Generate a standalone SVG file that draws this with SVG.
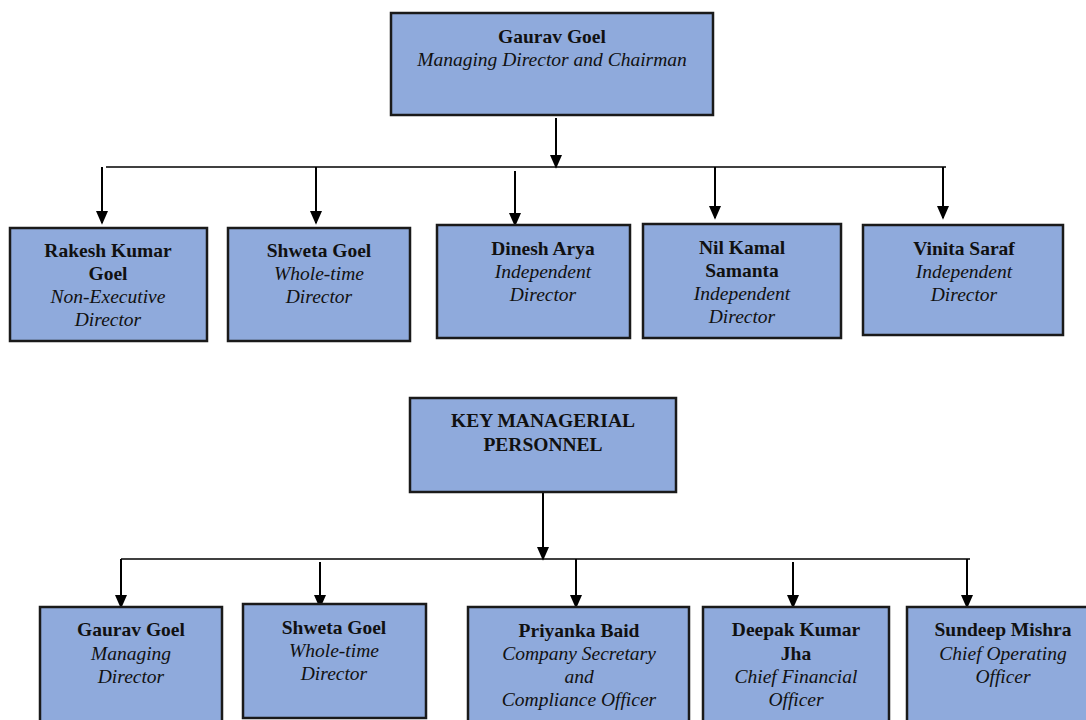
<svg xmlns="http://www.w3.org/2000/svg" width="1086" height="720" viewBox="0 0 1086 720">
<style>
.box{fill:#8FAADC;stroke:#1a1a1a;stroke-width:2.5}
.t{font-family:"Liberation Serif","Times New Roman",serif;font-size:19.5px;fill:#111;text-anchor:middle}
.b{font-weight:bold}
.i{font-style:italic}
.ln{stroke:#000;stroke-width:2;fill:none}
.hl{stroke:#000;stroke-width:1.5;fill:none}
</style>
<defs>
<marker id="ah" markerUnits="userSpaceOnUse" markerWidth="14" markerHeight="16" refX="7" refY="15" orient="auto-start-reverse" viewBox="0 0 14 16">
<path d="M0,0 L14,0 L7,16 Z" fill="#000"/>
</marker>
<marker id="ad" markerUnits="userSpaceOnUse" markerWidth="14" markerHeight="16" refX="14" refY="7" orient="auto" viewBox="0 0 16 14">
<path d="M0,0 L16,7 L0,14 Z" fill="#000"/>
</marker>
</defs>
<rect width="1086" height="720" fill="#fff"/>
<g id="connectors">
<line class="ln" x1="556" y1="118" x2="556" y2="167" marker-end="url(#ad)"/>
<line class="hl" x1="106" y1="167" x2="946" y2="167"/>
<line class="ln" x1="102" y1="167" x2="102" y2="223" marker-end="url(#ad)"/>
<line class="ln" x1="316" y1="167" x2="316" y2="223" marker-end="url(#ad)"/>
<line class="ln" x1="515" y1="171" x2="515" y2="225" marker-end="url(#ad)"/>
<line class="ln" x1="715" y1="167" x2="715" y2="218" marker-end="url(#ad)"/>
<line class="ln" x1="943" y1="167" x2="943" y2="218" marker-end="url(#ad)"/>
<line class="ln" x1="543" y1="493" x2="543" y2="559" marker-end="url(#ad)"/>
<line class="hl" x1="121" y1="559" x2="970" y2="559"/>
<line class="ln" x1="121" y1="559" x2="121" y2="607" marker-end="url(#ad)"/>
<line class="ln" x1="320" y1="562" x2="320" y2="607" marker-end="url(#ad)"/>
<line class="ln" x1="576" y1="559" x2="576" y2="607" marker-end="url(#ad)"/>
<line class="ln" x1="793" y1="562" x2="793" y2="607" marker-end="url(#ad)"/>
<line class="ln" x1="967" y1="559" x2="967" y2="607" marker-end="url(#ad)"/>
</g>
<g id="n-md">
<rect class="box" x="391" y="13" width="322" height="102"/>
<text class="t b" x="552" y="43">Gaurav Goel</text>
<text class="t i" x="552" y="66">Managing Director and Chairman</text>
</g>
<g id="n-rakesh">
<rect class="box" x="10" y="228" width="197" height="113"/>
<text class="t b" x="108" y="257">Rakesh Kumar</text>
<text class="t b" x="108" y="280">Goel</text>
<text class="t i" x="108" y="303">Non-Executive</text>
<text class="t i" x="108" y="326">Director</text>
</g>
<g id="n-shweta1">
<rect class="box" x="228" y="228" width="182" height="113"/>
<text class="t b" x="319" y="257">Shweta Goel</text>
<text class="t i" x="319" y="280">Whole-time</text>
<text class="t i" x="319" y="303">Director</text>
</g>
<g id="n-dinesh">
<rect class="box" x="437" y="225" width="193" height="113"/>
<text class="t b" x="543" y="255">Dinesh Arya</text>
<text class="t i" x="543" y="278">Independent</text>
<text class="t i" x="543" y="301">Director</text>
</g>
<g id="n-nilkamal">
<rect class="box" x="643" y="224" width="198" height="114"/>
<text class="t b" x="742" y="254">Nil Kamal</text>
<text class="t b" x="742" y="277">Samanta</text>
<text class="t i" x="742" y="300">Independent</text>
<text class="t i" x="742" y="323">Director</text>
</g>
<g id="n-vinita">
<rect class="box" x="863" y="225" width="200" height="110"/>
<text class="t b" x="964" y="255">Vinita Saraf</text>
<text class="t i" x="964" y="278">Independent</text>
<text class="t i" x="964" y="301">Director</text>
</g>
<g id="n-kmp">
<rect class="box" x="410" y="398" width="266" height="94"/>
<text class="t b" x="543" y="427">KEY MANAGERIAL</text>
<text class="t b" x="543" y="451">PERSONNEL</text>
</g>
<g id="n-gaurav2">
<rect class="box" x="40" y="607" width="182" height="125"/>
<text class="t b" x="131" y="636">Gaurav Goel</text>
<text class="t i" x="131" y="660">Managing</text>
<text class="t i" x="131" y="683">Director</text>
</g>
<g id="n-shweta2">
<rect class="box" x="243" y="604" width="183" height="114"/>
<text class="t b" x="334" y="634">Shweta Goel</text>
<text class="t i" x="334" y="657">Whole-time</text>
<text class="t i" x="334" y="680">Director</text>
</g>
<g id="n-priyanka">
<rect class="box" x="468" y="607" width="221" height="125"/>
<text class="t b" x="579" y="637">Priyanka Baid</text>
<text class="t i" x="579" y="660">Company Secretary</text>
<text class="t i" x="579" y="683">and</text>
<text class="t i" x="579" y="706">Compliance Officer</text>
</g>
<g id="n-deepak">
<rect class="box" x="703" y="607" width="186" height="125"/>
<text class="t b" x="796" y="636">Deepak Kumar</text>
<text class="t b" x="796" y="660">Jha</text>
<text class="t i" x="796" y="683">Chief Financial</text>
<text class="t i" x="796" y="706">Officer</text>
</g>
<g id="n-sundeep">
<rect class="box" x="907" y="607" width="190" height="125"/>
<text class="t b" x="1003" y="636">Sundeep Mishra</text>
<text class="t i" x="1003" y="660">Chief Operating</text>
<text class="t i" x="1003" y="683">Officer</text>
</g>
</svg>
